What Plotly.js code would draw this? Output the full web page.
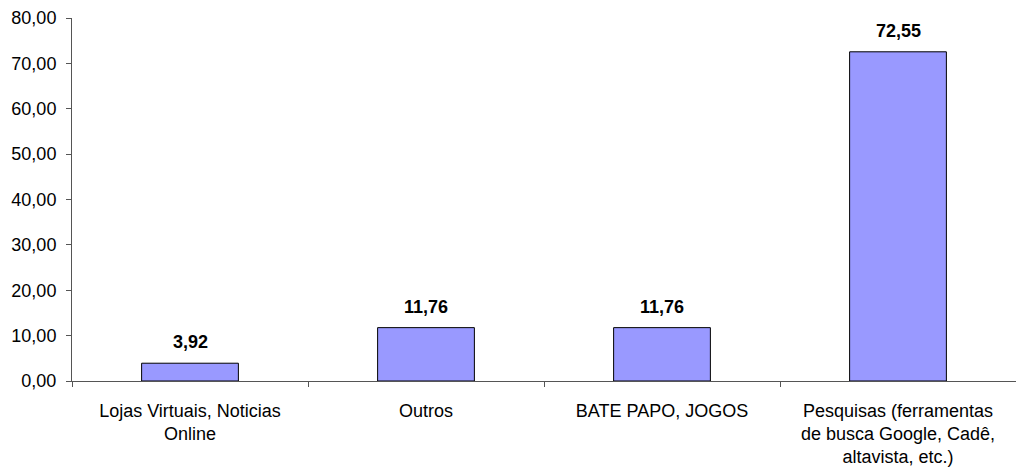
<!DOCTYPE html>
<html>
<head>
<meta charset="utf-8">
<script src="https://cdn.plot.ly/plotly-3.0.1.min.js"></script>
<style>html,body{margin:0;padding:0;background:#fff;}#chart{width:1016px;height:473px;}</style>
</head>
<body>
<div id="chart"></div>
<script>
var categories = [
  "Lojas Virtuais, Noticias<br>Online",
  "Outros",
  "BATE PAPO, JOGOS",
  "Pesquisas (ferramentas<br>de busca Google, Cadê,<br>altavista, etc.)"
];
var values = [3.92, 11.76, 11.76, 72.55];
var valueLabels = ["3,92", "11,76", "11,76", "72,55"];
var yTickVals = [0, 10, 20, 30, 40, 50, 60, 70, 80];

var font = "Liberation Sans, Arial, sans-serif";

var trace = {
  type: "bar",
  x: categories,
  y: values,
  width: 0.41,
  marker: {color: "#9999FF", line: {color: "#000000", width: 1}},
  hoverinfo: "none"
};

var annotations = categories.map(function (c, i) {
  return {
    x: c, y: values[i], xref: "x", yref: "y",
    text: "<b>" + valueLabels[i] + "</b>",
    showarrow: false, yanchor: "bottom", yshift: 9,
    font: {family: font, size: 18, color: "#000"}
  };
});

var layout = {
  width: 1016, height: 473,
  margin: {l: 72, r: 0, t: 18, b: 92},
  paper_bgcolor: "#fff", plot_bgcolor: "#fff",
  separators: ",.",
  showlegend: false,
  font: {family: font, size: 18, color: "#000"},
  xaxis: {
    type: "category",
    showgrid: false,
    showline: true, linecolor: "#555", linewidth: 1,
    ticks: "outside", tickson: "boundaries", ticklen: 5, tickcolor: "#555",
    tickfont: {family: font, size: 18, color: "#000"},
    ticklabelstandoff: 13,
    zeroline: false,
    fixedrange: true
  },
  yaxis: {
    range: [0, 80],
    tickvals: yTickVals,
    tickformat: ".2f",
    showgrid: false,
    showline: true, linecolor: "#555", linewidth: 1,
    ticks: "outside", ticklen: 5, tickcolor: "#555",
    tickfont: {family: font, size: 18, color: "#000"},
    ticklabelstandoff: 6,
    zeroline: false,
    fixedrange: true
  },
  annotations: annotations
};

Plotly.newPlot("chart", [trace], layout, {displayModeBar: false, staticPlot: true});
</script>
</body>
</html>
